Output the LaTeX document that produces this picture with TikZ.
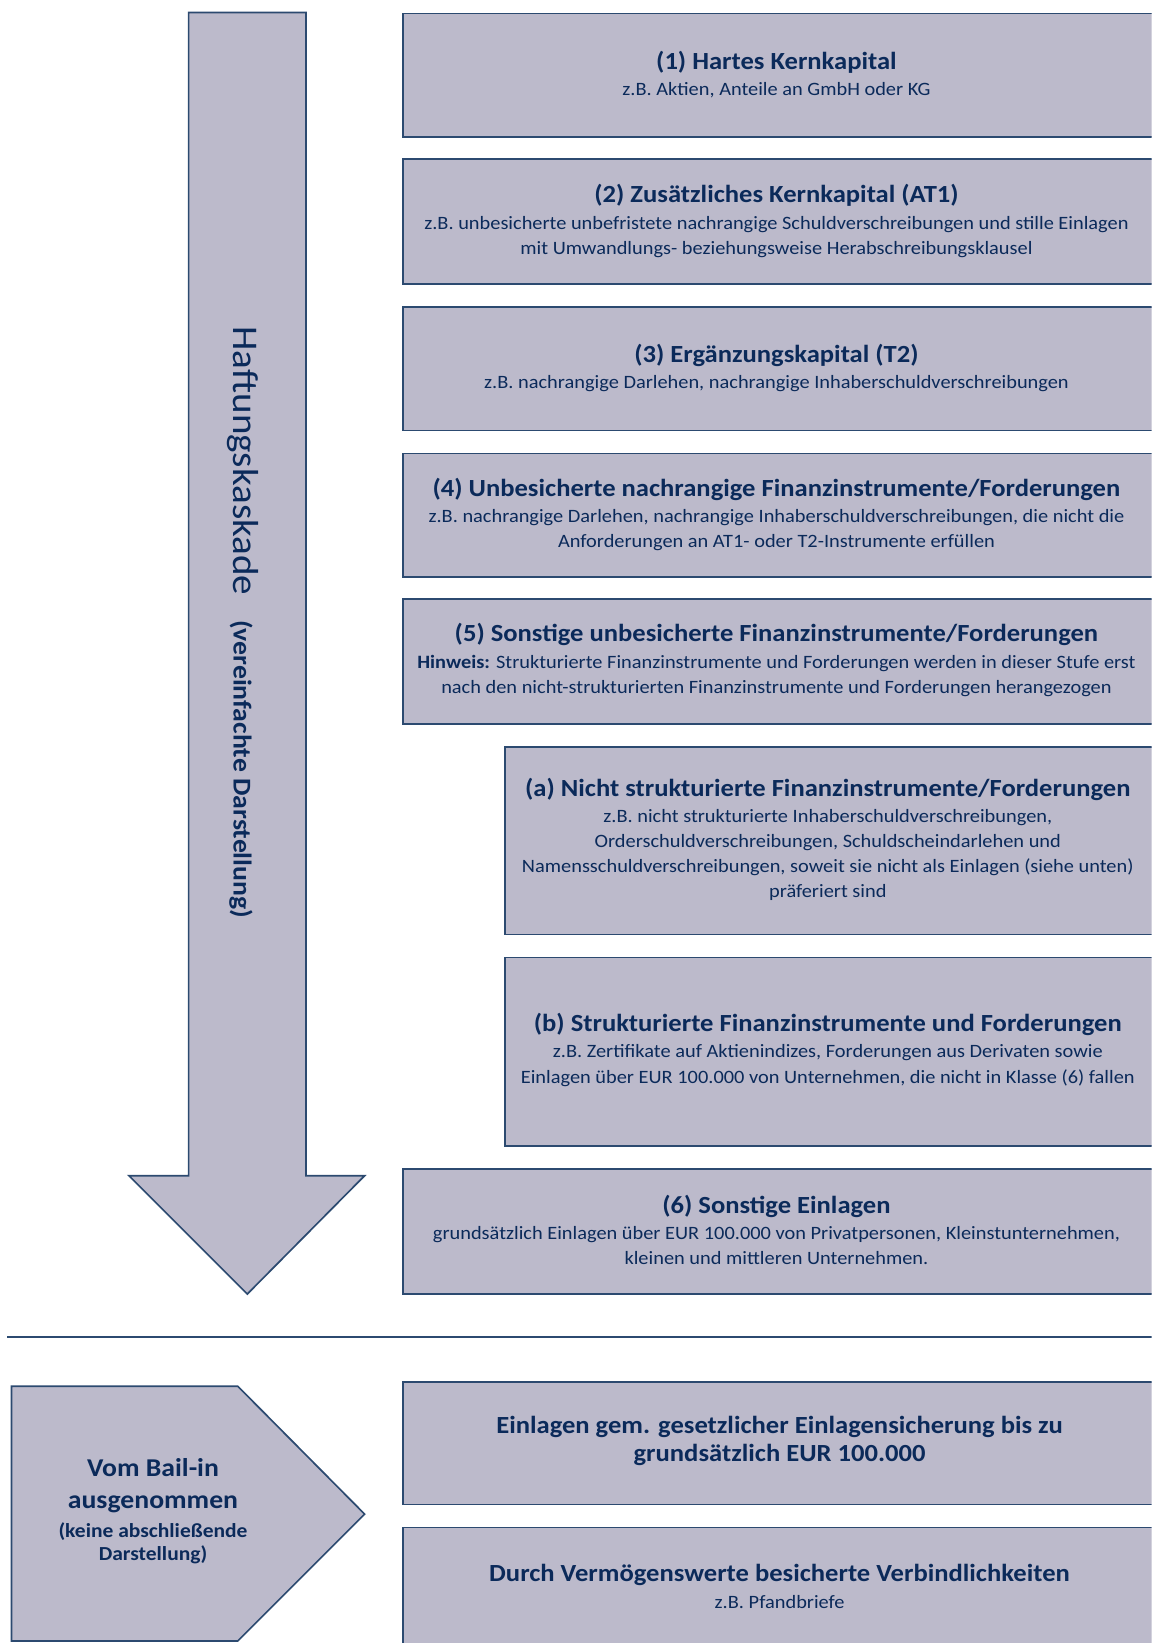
\documentclass[tikz,border=0pt]{standalone}
\usepackage{fontspec}
\setmainfont{Carlito}[FakeStretch=1.08]
\definecolor{boxfill}{HTML}{BCBACB}
\definecolor{boxline}{HTML}{2C4A70}
\definecolor{txt}{HTML}{0B2A5A}
\newcommand\mytitle[1]{{\fontsize{23.5}{27}\selectfont\bfseries #1}}
\begin{document}
\begin{tikzpicture}[x=1pt,y=-1pt,
  box/.style={draw=boxline, fill=boxfill, line width=1.6pt, anchor=north west, inner sep=0pt, minimum width=740pt},
  bigshape/.style={draw=boxline, fill=boxfill, line width=1.6pt, line join=miter},
  lbl/.style={text=txt, align=center, inner sep=0pt, font=\fontsize{18}{24}\selectfont},
  ]
\useasboundingbox (0,0) rectangle (1099,1568);
\clip (0,0) rectangle (1099,1568);

% cascade arrow
\draw[bigshape] (180,12) -- (292,12) -- (292,1122) -- (348,1122) -- (236,1235) -- (123,1122) -- (180,1122) -- cycle;
\node[text=txt, rotate=-90, inner sep=0pt] (vt) at (232,594)
  {{\fontsize{34.5}{34}\selectfont Haftungskaskade}\hspace{24pt}{\fontsize{24.5}{24}\selectfont\bfseries (vereinfachte Darstellung)}};

% boxes
\node[box, minimum height=118pt] (b1) at (384,12) {};
\node[box, minimum height=119pt] (b2) at (384,151) {};
\node[box, minimum height=118pt] (b3) at (384,292) {};
\node[box, minimum height=118pt] (b4) at (384,432) {};
\node[box, minimum height=119pt] (b5) at (384,571) {};
\node[box, minimum height=179pt, minimum width=640pt] (ba) at (481,712) {};
\node[box, minimum height=180pt, minimum width=640pt] (bb) at (481,913) {};
\node[box, minimum height=119pt] (b6) at (384,1115) {};

\node[lbl] (t1) at (741,71) {\mytitle{(1) Hartes Kernkapital}\\[1pt] z.B. Aktien, Anteile an GmbH oder KG};
\node[lbl] (t2) at (741,211) {\mytitle{(2) Zusätzliches Kernkapital (AT1)}\\[1pt] z.B. unbesicherte unbefristete nachrangige Schuldverschreibungen und stille Einlagen\\ mit Umwandlungs- beziehungsweise Herabschreibungsklausel};
\node[lbl] (t3) at (741,351) {\mytitle{(3) Ergänzungskapital (T2)}\\[1pt] z.B. nachrangige Darlehen, nachrangige Inhaberschuldverschreibungen};
\node[lbl] (t4) at (741,491) {\mytitle{(4) Unbesicherte nachrangige Finanzinstrumente/Forderungen}\\[1pt] z.B. nachrangige Darlehen, nachrangige Inhaberschuldverschreibungen, die nicht die\\ Anforderungen an AT1- oder T2-Instrumente erfüllen};
\node[lbl] (t5) at (741,630) {\mytitle{(5) Sonstige unbesicherte Finanzinstrumente/Forderungen}\\[1pt] \textbf{Hinweis:} Strukturierte Finanzinstrumente und Forderungen werden in dieser Stufe erst\\ nach den nicht-strukturierten Finanzinstrumente und Forderungen herangezogen};
\node[lbl] (ta) at (790,801) {\mytitle{(a) Nicht strukturierte Finanzinstrumente/Forderungen}\\[1pt] z.B. nicht strukturierte Inhaberschuldverschreibungen,\\ Orderschuldverschreibungen, Schuldscheindarlehen und\\ Namensschuldverschreibungen, soweit sie nicht als Einlagen (siehe unten)\\ präferiert sind};
\node[lbl] (tb) at (790,1002) {\mytitle{(b) Strukturierte Finanzinstrumente und Forderungen}\\[1pt] z.B. Zertifikate auf Aktienindizes, Forderungen aus Derivaten sowie\\ Einlagen über EUR 100.000 von Unternehmen, die nicht in Klasse (6) fallen};
\node[lbl] (t6) at (741,1174) {\mytitle{(6) Sonstige Einlagen}\\[1pt] grundsätzlich Einlagen über EUR 100.000 von Privatpersonen, Kleinstunternehmen,\\ kleinen und mittleren Unternehmen.};

% separator
\coordinate (s1) at (7,1276);
\coordinate (s2) at (1110,1276);
\draw[boxline, line width=1.6pt] (s1) -- (s2);

% excluded
\draw[bigshape] (11,1323) -- (227,1323) -- (348,1445) -- (227,1566) -- (11,1566) -- cycle;
\node[lbl] (tp) at (146,1442) {{\fontsize{24.5}{31}\selectfont\bfseries Vom Bail-in}\\[7pt] {\fontsize{24.5}{31}\selectfont\bfseries ausgenommen}\\[3pt] {\fontsize{19}{22}\selectfont\bfseries (keine abschließende}\\[-2pt] {\fontsize{19}{22}\selectfont\bfseries Darstellung)}};

\node[box, minimum height=117pt] (e1) at (384,1318) {};
\node[box, minimum height=112pt] (e2) at (384,1457) {};
\node[lbl] (te1) at (744,1375) {\mytitle{Einlagen gem. gesetzlicher Einlagensicherung bis zu}\\[3pt] \mytitle{grundsätzlich EUR 100.000}};
\node[lbl] (te2) at (744,1514) {\mytitle{Durch Vermögenswerte besicherte Verbindlichkeiten}\\[1pt] z.B. Pfandbriefe};
\end{tikzpicture}
\end{document}
